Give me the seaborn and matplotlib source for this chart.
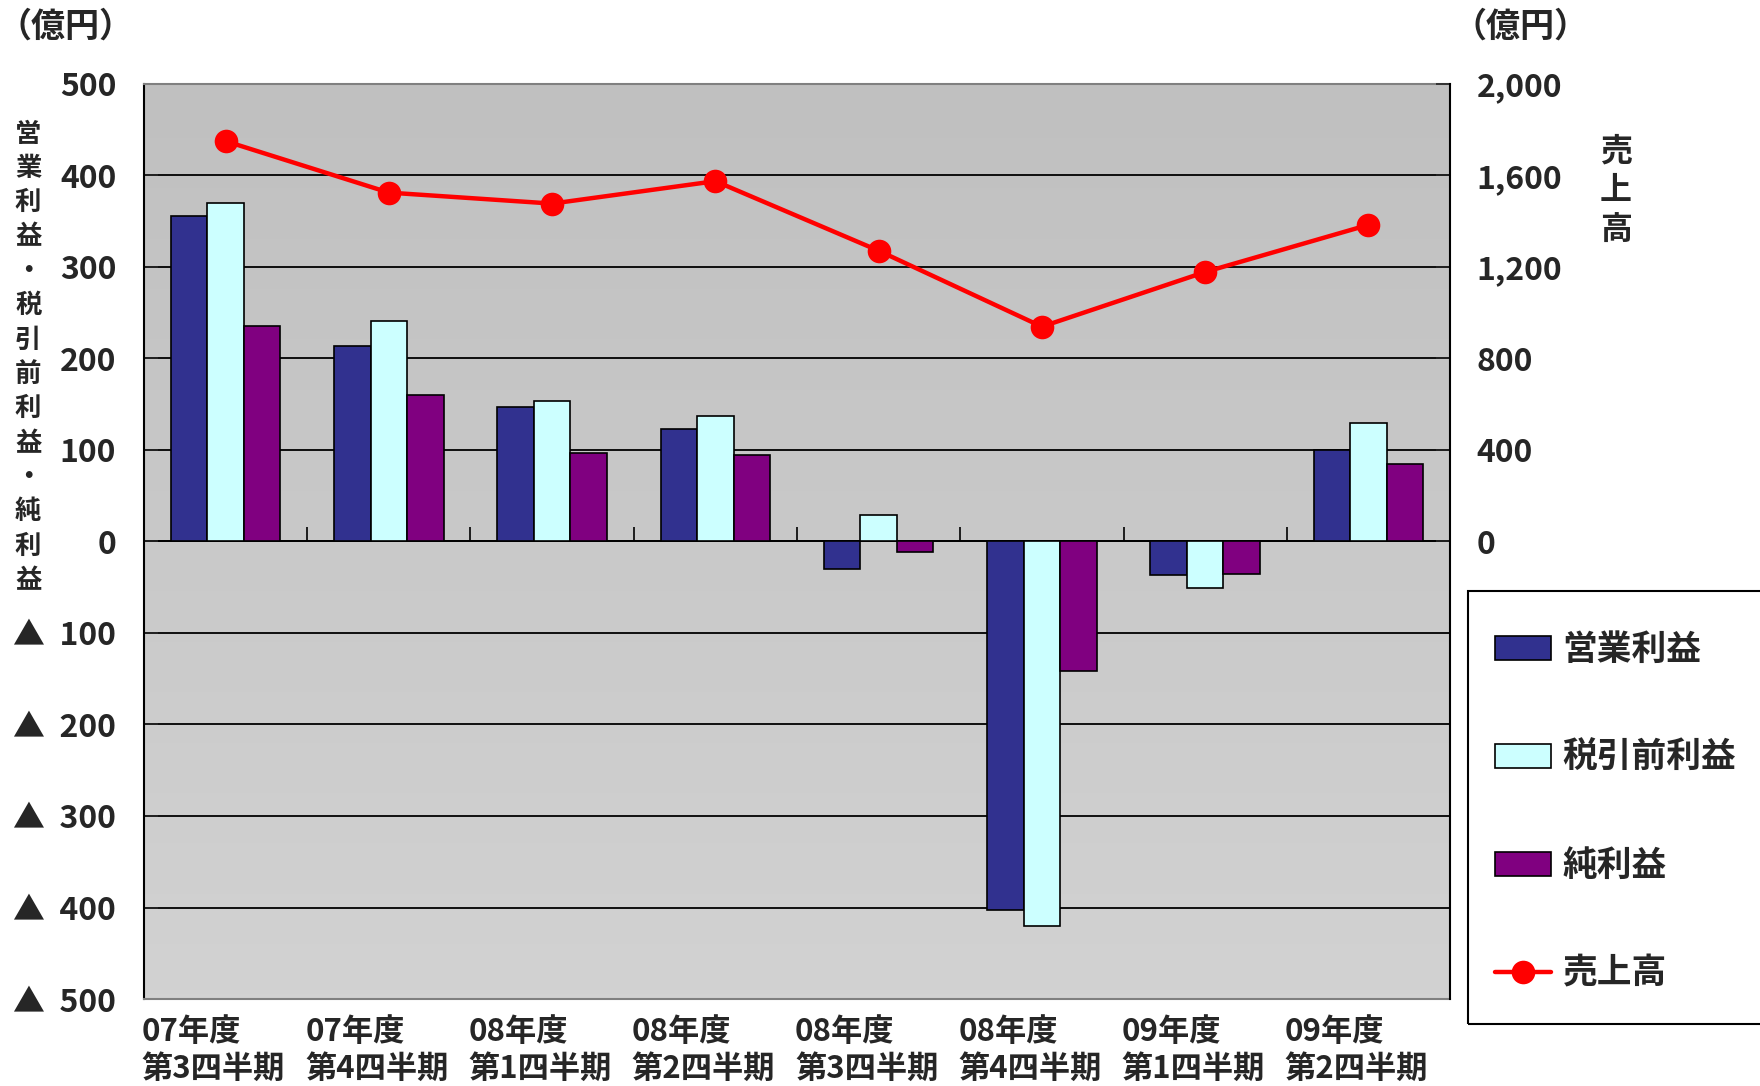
import numpy as np
import pandas as pd
import matplotlib.pyplot as plt
import matplotlib.transforms as mtransforms
from matplotlib.colors import LinearSegmentedColormap
from matplotlib.patches import Patch, Rectangle
from matplotlib.lines import Line2D
from matplotlib.ticker import FuncFormatter, MultipleLocator, NullFormatter
import seaborn as sns

# data (億円)
quarters = ['07年度\n第3四半期', '07年度\n第4四半期', '08年度\n第1四半期', '08年度\n第2四半期',
            '08年度\n第3四半期', '08年度\n第4四半期', '09年度\n第1四半期', '09年度\n第2四半期']
metrics = ['営業利益', '税引前利益', '純利益']
op_profit = [356, 214, 147, 123, -30, -403, -37, 100]
pretax_profit = [370, 241, 153, 137, 29, -420, -51, 130]
net_profit = [236, 160, 97, 95, -12, -142, -35, 85]
sales = [1750, 1525, 1477, 1575, 1271, 939, 1178, 1384]

bar_colors = ['#31318f', '#ccffff', '#800080']
line_color = '#ff0000'

sns.set_style('white')
plt.rcParams['font.family'] = ['Noto Sans CJK JP', 'DejaVu Sans']
plt.rcParams['font.weight'] = 'bold'

df = pd.DataFrame({
    'quarter': quarters * 3,
    'metric': np.repeat(metrics, len(quarters)),
    'value': op_profit + pretax_profit + net_profit,
})

fig = plt.figure(figsize=(17.6, 10.86), dpi=100)
ax = fig.add_axes([0.0818, 0.0801, 0.7421, 0.8426])

# plot area gradient
bg = LinearSegmentedColormap.from_list('bg', ['#c0c0c0', '#d2d2d2'])
ax.imshow(np.linspace(0, 1, 200).reshape(-1, 1), cmap=bg, aspect='auto',
          extent=(0, 1, 0, 1), transform=ax.transAxes, origin='upper', zorder=0)

sns.barplot(data=df, x='quarter', y='value', hue='metric', order=quarters,
            hue_order=metrics, palette=bar_colors, saturation=1, width=0.67,
            edgecolor='black', linewidth=1.2, errorbar=None, legend=False,
            ax=ax, zorder=2)

ax.set_xlim(-0.5, len(quarters) - 0.5)
ax.set_ylim(-500, 500)
ax.yaxis.set_major_locator(MultipleLocator(100))
ax.yaxis.set_major_formatter(FuncFormatter(lambda v, p: f'▲  {abs(int(v))}' if v < 0 else f'{int(v)}'))
ax.set_axisbelow(True)
ax.grid(axis='y', color='black', linewidth=1.3)
ax.grid(axis='x', visible=False)
ax.set_xlabel('')
ax.set_ylabel('')
ax.tick_params(axis='y', direction='in', length=10, width=1.2, pad=20, labelsize=23, left=True)
ax.tick_params(axis='x', length=0, pad=12)
ax.set_xticks(range(len(quarters)))
ax.set_xticklabels(quarters, fontsize=22.5, multialignment='left')
offset = mtransforms.ScaledTranslation(-0.12, 0, fig.dpi_scale_trans)
for lbl in ax.get_xticklabels():
    lbl.set_transform(lbl.get_transform() + offset)
for s in ['top', 'bottom']:
    ax.spines[s].set_color('#808080')
    ax.spines[s].set_linewidth(1.5)
ax.spines['left'].set_color('black')
ax.spines['left'].set_linewidth(1.5)
ax.spines['right'].set_visible(False)

# small ticks on the zero line between groups
sec = ax.secondary_xaxis(0.5)
sec.set_xticks(np.arange(0.5, len(quarters) - 1))
sec.xaxis.set_major_formatter(NullFormatter())
sec.tick_params(direction='out', length=10, width=1.2, labeltop=False, labelbottom=False,
                color='black')
for s in ['top', 'bottom']:
    sec.spines[s].set_color('black')
    sec.spines[s].set_linewidth(1.3)

# sales line on right axis
ax2 = ax.twinx()
sns.lineplot(x=np.arange(len(sales)), y=sales, ax=ax2, color=line_color, lw=3.2,
             marker='o', markersize=17, markeredgewidth=0, legend=False)
ax2.set_ylim(-2000, 2000)
ax2.set_yticks(range(0, 2001, 400))
ax2.yaxis.set_major_formatter(FuncFormatter(lambda v, p: f'{int(v):,}'))
ax2.tick_params(axis='y', direction='in', length=10, width=1.2, pad=19, labelsize=23, right=True)
ax2.set_ylabel('')
for s in ['top', 'bottom', 'left']:
    ax2.spines[s].set_visible(False)
ax2.spines['right'].set_color('black')
ax2.spines['right'].set_linewidth(1.5)

# axis titles
fig.text(0.037, 0.976, '（億円）', ha='center', va='center', fontsize=24.5)
fig.text(0.864, 0.976, '（億円）', ha='center', va='center', fontsize=24.5)
fig.text(0.016, 0.671, '\n'.join('営業利益・税引前利益・純利益'), ha='center', va='center',
         fontsize=19, linespacing=1.35)
fig.text(0.918, 0.824, '\n'.join('売上高'), ha='center', va='center', fontsize=23, linespacing=1.3)

# legend (frame drawn separately; it runs off the right edge)
fig.patches.append(Rectangle((1468 / 1760, 1 - 1024 / 1086), 0.3, 433 / 1086,
                             transform=fig.transFigure, fill=False,
                             edgecolor='black', linewidth=1.5))
handles = [Patch(facecolor=c, edgecolor='black', linewidth=1.2) for c in bar_colors]
handles.append(Line2D([], [], color=line_color, lw=3.2, marker='o', markersize=17, markeredgewidth=0))
fig.legend(handles, metrics + ['売上高'], loc='upper left',
           bbox_to_anchor=(1495 / 1760, 1 - 632 / 1086), frameon=False,
           fontsize=25, handlelength=1.6, handleheight=0.7, handletextpad=0.35,
           borderpad=0, labelspacing=2.1, borderaxespad=0)

fig.savefig('out.png', dpi=100)
